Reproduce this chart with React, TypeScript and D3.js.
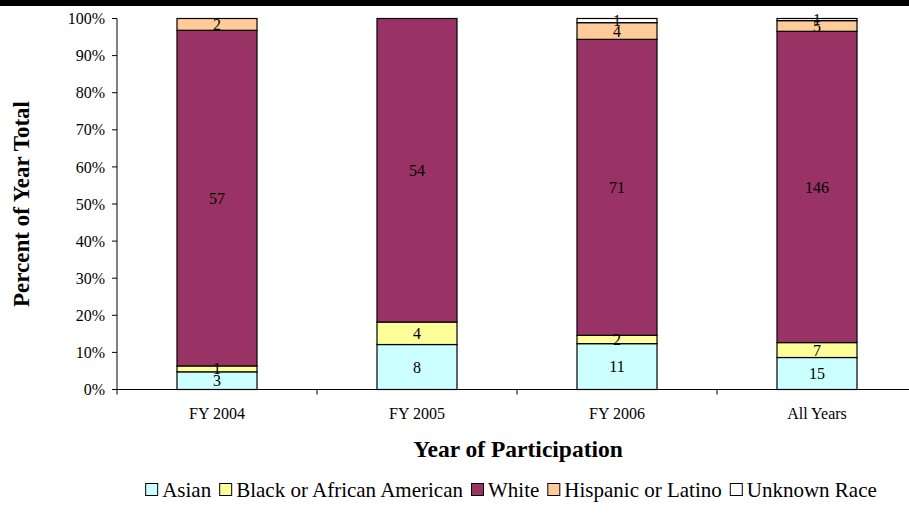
import React, { useRef, useEffect } from 'react';
import * as d3 from 'd3';

const categories = ['FY 2004', 'FY 2005', 'FY 2006', 'All Years'];
const seriesNames = ['Asian', 'Black or African American', 'White', 'Hispanic or Latino', 'Unknown Race'];
const asian = [3, 8, 11, 15];
const black = [1, 4, 2, 7];
const white = [57, 54, 71, 146];
const hispanic = [2, 0, 4, 5];
const unknown = [0, 0, 1, 1];
const seriesColors = ['#ccffff', '#ffff99', '#993366', '#ffcc99', '#ffffff'];
const yTicks = [0, 0.1, 0.2, 0.3, 0.4, 0.5, 0.6, 0.7, 0.8, 0.9, 1];

const W = 909;
const H = 523;
const FONT = '"Liberation Serif", "Times New Roman", serif';

const App: React.FC = () => {
    const svgRef = useRef<SVGSVGElement>(null);

    useEffect(() => {
        if (!svgRef.current) return;
        const svg = d3.select(svgRef.current);
        svg.selectAll('*').remove();

        const seriesValues = [asian, black, white, hispanic, unknown];
        const rows = categories.map((c, i) => {
            const r: any = { category: c };
            seriesNames.forEach((s, j) => { r[s] = seriesValues[j][i]; });
            return r;
        });
        const stacked = d3.stack<any>()
            .keys(seriesNames)
            .offset(d3.stackOffsetExpand)(rows);

        const x = d3.scaleBand<string>()
            .domain(categories)
            .range([117, 917])
            .paddingInner(0.6)
            .paddingOuter(0.3);
        const y = d3.scaleLinear().domain([0, 1]).range([389.5, 18.5]);

        // black band at the top
        svg.append('rect').attr('x', 0).attr('y', 0).attr('width', W).attr('height', 6).attr('fill', '#000');

        // bars
        stacked.forEach((layer, si) => {
            const g = svg.append('g');
            layer.forEach((d, ci) => {
                const v = seriesValues[si][ci];
                if (v === 0) return;
                g.append('rect')
                    .attr('x', x(categories[ci])!)
                    .attr('y', y(d[1]))
                    .attr('width', x.bandwidth())
                    .attr('height', y(d[0]) - y(d[1]))
                    .attr('fill', seriesColors[si])
                    .attr('stroke', '#000')
                    .attr('stroke-width', 1.2);
            });
        });

        // data labels, centred in their segment
        stacked.forEach((layer, si) => {
            layer.forEach((d, ci) => {
                const v = seriesValues[si][ci];
                if (v === 0) return;
                svg.append('text')
                    .attr('x', x(categories[ci])! + x.bandwidth() / 2)
                    .attr('y', (y(d[0]) + y(d[1])) / 2)
                    .attr('dy', '0.35em')
                    .attr('text-anchor', 'middle')
                    .attr('font-family', FONT)
                    .attr('font-size', 16)
                    .attr('fill', '#000')
                    .text(v);
            });
        });

        // y axis
        svg.append('line')
            .attr('x1', 117).attr('x2', 117)
            .attr('y1', y(1)).attr('y2', y(0))
            .attr('stroke', '#000');
        yTicks.forEach(t => {
            svg.append('line')
                .attr('x1', 112).attr('x2', 117)
                .attr('y1', y(t)).attr('y2', y(t))
                .attr('stroke', '#000');
            svg.append('text')
                .attr('x', 105)
                .attr('y', y(t))
                .attr('dy', '0.35em')
                .attr('text-anchor', 'end')
                .attr('font-family', FONT)
                .attr('font-size', 16)
                .text(d3.format('.0%')(t));
        });

        // x axis
        svg.append('line')
            .attr('x1', 117).attr('x2', W)
            .attr('y1', y(0)).attr('y2', y(0))
            .attr('stroke', '#000');
        const step = x.step();
        categories.forEach(c => {
            const bx = x(c)! - (step - x.bandwidth()) / 2;
            svg.append('line')
                .attr('x1', bx).attr('x2', bx)
                .attr('y1', y(0)).attr('y2', y(0) + 5)
                .attr('stroke', '#000');
            svg.append('text')
                .attr('x', x(c)! + x.bandwidth() / 2)
                .attr('y', 419)
                .attr('text-anchor', 'middle')
                .attr('font-family', FONT)
                .attr('font-size', 16)
                .text(c);
        });

        // axis titles
        svg.append('text')
            .attr('x', 518)
            .attr('y', 457)
            .attr('text-anchor', 'middle')
            .attr('font-family', FONT)
            .attr('font-weight', 'bold')
            .attr('font-size', 23.5)
            .text('Year of Participation');
        svg.append('text')
            .attr('transform', `translate(29,${(y(0) + y(1)) / 2}) rotate(-90)`)
            .attr('text-anchor', 'middle')
            .attr('font-family', FONT)
            .attr('font-weight', 'bold')
            .attr('font-size', 23)
            .text('Percent of Year Total');

        // legend
        const legend = svg.append('g');
        let cx = 0;
        seriesNames.forEach((s, i) => {
            legend.append('rect')
                .attr('x', cx + 0.5)
                .attr('y', -13.5)
                .attr('width', 12)
                .attr('height', 12)
                .attr('fill', seriesColors[i])
                .attr('stroke', '#000');
            const t = legend.append('text')
                .attr('x', cx + 17)
                .attr('y', 0)
                .attr('font-family', FONT)
                .attr('font-size', 21)
                .text(s);
            const w = (t.node() as SVGTextElement).getComputedTextLength();
            cx += 17 + w + 8;
        });
        const total = cx - 8;
        legend.attr('transform', `translate(${511 - total / 2},497)`);
    }, []);

    return (
        <svg
            ref={svgRef}
            width={W}
            height={H}
            style={{ position: 'absolute', left: 0, top: 0, background: '#fff' }}
        />
    );
};

export default App;
